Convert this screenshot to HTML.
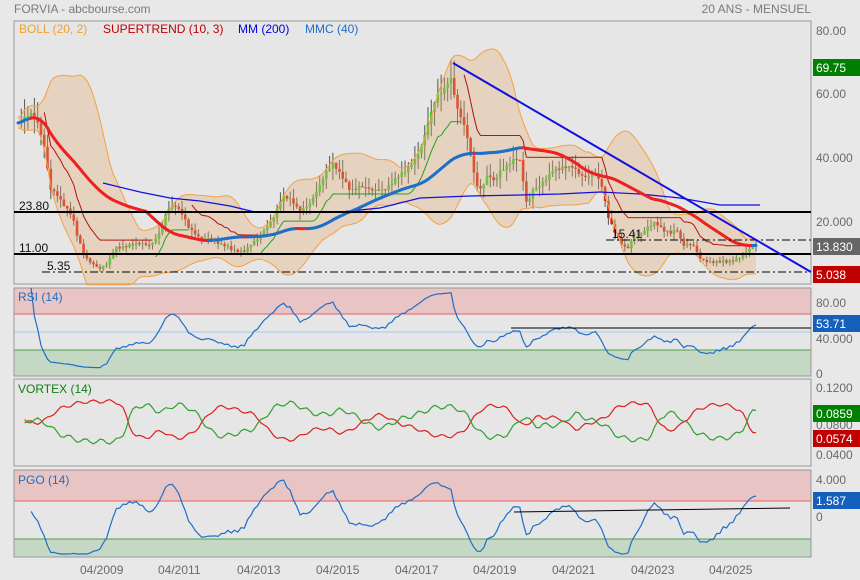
<!DOCTYPE html>
<html><head><meta charset="utf-8"><style>
html,body{margin:0;padding:0;background:#e8e8e8;}
svg{display:block;font-family:"Liberation Sans",sans-serif;}
</style></head><body>
<svg id="c" width="860" height="580" xmlns="http://www.w3.org/2000/svg">
<rect width="860" height="580" fill="#e8e8e8"/>
<text x="14" y="13" font-size="12" fill="#7a7a7a">FORVIA - abcbourse.com</text>
<text x="811" y="13" font-size="12" fill="#7a7a7a" text-anchor="end">20 ANS - MENSUEL</text>
<g id="bg"></g>
<g id="plot"></g>
<g font-size="12">
<text x="19" y="33" fill="#f0a030">BOLL (20, 2)</text>
<text x="103" y="33" fill="#c00000">SUPERTREND (10, 3)</text>
<text x="238" y="33" fill="#0000e0">MM (200)</text>
<text x="305" y="33" fill="#1e6fc8">MMC (40)</text>
<text x="18" y="301" fill="#1e6fc8">RSI (14)</text>
<text x="18" y="393" fill="#108010">VORTEX (14)</text>
<text x="18" y="484" fill="#1e6fc8">PGO (14)</text>
</g>
<g font-size="12" fill="#6a6a6a">
<text x="816" y="35">80.00</text>
<text x="816" y="98">60.00</text>
<text x="816" y="162">40.000</text>
<text x="816" y="226">20.000</text>
<text x="816" y="307">80.00</text>
<text x="816" y="343">40.000</text>
<text x="816" y="378">0</text>
<text x="816" y="392">0.1200</text>
<text x="816" y="429">0.0800</text>
<text x="816" y="459">0.0400</text>
<text x="816" y="484">4.000</text>
<text x="816" y="521">0</text>
<text x="80" y="574">04/2009</text>
<text x="158" y="574">04/2011</text>
<text x="237" y="574">04/2013</text>
<text x="316" y="574">04/2015</text>
<text x="395" y="574">04/2017</text>
<text x="473" y="574">04/2019</text>
<text x="552" y="574">04/2021</text>
<text x="631" y="574">04/2023</text>
<text x="709" y="574">04/2025</text>
</g>
<g font-size="12" fill="#fff">
<rect x="813" y="59" width="47" height="17" fill="#008000"/><text x="816" y="72">69.75</text>
<rect x="813" y="238" width="47" height="17" fill="#666"/><text x="816" y="251">13.830</text>
<rect x="813" y="266" width="47" height="17" fill="#c00000"/><text x="816" y="279">5.038</text>
<rect x="813" y="315" width="47" height="17" fill="#1560bd"/><text x="816" y="328">53.71</text>
<rect x="813" y="405" width="47" height="17" fill="#008000"/><text x="816" y="418">0.0859</text>
<rect x="813" y="430" width="47" height="17" fill="#c00000"/><text x="816" y="443">0.0574</text>
<rect x="813" y="492" width="47" height="17" fill="#1560bd"/><text x="816" y="505">1.587</text>
</g>
</svg>
<script>
const NS="http://www.w3.org/2000/svg";
function el(p,t,a){const e=document.createElementNS(NS,t);for(const k in a)e.setAttribute(k,a[k]);p.appendChild(e);return e;}
const bg=document.getElementById('bg'),P=document.getElementById('plot');
el(bg,'rect',{x:14,y:21,width:797,height:263,fill:'#e6e6e6',stroke:'#999'});
el(bg,'rect',{x:14,y:288,width:797,height:88,fill:'#e6e6e6',stroke:'#999'});
el(bg,'rect',{x:14,y:288,width:797,height:26,fill:'#e8c4c4'});
el(bg,'rect',{x:14,y:350,width:797,height:26,fill:'#c4d8c4'});
el(bg,'line',{x1:14,y1:314,x2:811,y2:314,stroke:'#e86060'});
el(bg,'line',{x1:14,y1:332,x2:811,y2:332,stroke:'#a8c8f0'});
el(bg,'line',{x1:14,y1:350,x2:811,y2:350,stroke:'#50a050'});
el(bg,'rect',{x:14,y:288,width:797,height:88,fill:'none',stroke:'#999'});
el(bg,'rect',{x:14,y:379,width:797,height:87,fill:'#e6e6e6',stroke:'#999'});
el(bg,'rect',{x:14,y:470,width:797,height:87,fill:'#e6e6e6',stroke:'#999'});
el(bg,'rect',{x:14,y:470,width:797,height:31,fill:'#e8c4c4'});
el(bg,'rect',{x:14,y:539,width:797,height:18,fill:'#c4d8c4'});
el(bg,'line',{x1:14,y1:501,x2:811,y2:501,stroke:'#e86060'});
el(bg,'line',{x1:14,y1:539,x2:811,y2:539,stroke:'#50a050'});
el(bg,'rect',{x:14,y:470,width:797,height:87,fill:'none',stroke:'#999'});

const pts=[[18,125],[25,118],[32,112],[38,122],[45,150],[50,190],[57,195],[65,205],[72,215],[78,240],[85,258],[92,262],[100,268],[108,265],[115,248],[125,245],[140,245],[150,244],[160,232],[168,210],[175,205],[182,212],[190,230],[200,240],[210,236],[220,245],[232,250],[245,250],[258,240],[265,228],[275,215],[282,198],[292,200],[300,210],[310,205],[318,190],[326,170],[333,163],[340,175],[350,190],[360,185],[372,192],[385,188],[395,180],[405,172],[415,158],[422,145],[430,118],[437,95],[443,90],[447,82],[452,78],[456,108],[462,120],[467,135],[472,162],[477,185],[482,190],[488,175],[494,182],[500,170],[507,165],[515,160],[520,162],[527,205],[533,188],[540,186],[547,180],[553,170],[563,166],[573,168],[580,176],[587,176],[595,172],[603,190],[607,215],[613,228],[620,240],[627,250],[633,240],[640,236],[647,226],[655,222],[663,232],[670,233],[677,228],[683,245],[693,246],[700,258],[707,260],[713,262],[720,263],[728,262],[735,258],[742,256],[750,250],[757,244]];
function interp(x){for(let i=1;i<pts.length;i++){if(x<=pts[i][0]){const a=pts[i-1],b=pts[i];const t=(x-a[0])/(b[0]-a[0]);return a[1]+t*(b[1]-a[1]);}}return pts[pts.length-1][1];}
const Y=v=>288-3.2*v, V=y=>(288-y)/3.2;
const xs=[],c=[];
for(let x=18;x<=758;x+=3.28){xs.push(x);let y=interp(x)+1.5*Math.sin(x*1.7)+1*Math.sin(x*0.9+1);c.push(V(y));}
const n=c.length;
for(let i=1;i<n;i++){const o=c[i-1],cl=c[i];const up=cl>=o;const hi=Math.max(o,cl)+Math.abs(Math.sin(i*2.3))*2.2*(c[i]/25+0.3),lo=Math.min(o,cl)-Math.abs(Math.cos(i*1.9))*2*(c[i]/25+0.3);
el(P,'line',{x1:xs[i],y1:Y(hi),x2:xs[i],y2:Y(lo),stroke:'#555','stroke-width':1});
const t=Y(Math.max(o,cl)),b=Y(Math.min(o,cl));el(P,'rect',{x:xs[i]-1.3,y:t,width:2.6,height:Math.max(1,b-t),fill:up?'#33cc22':'#dd2211'});}
function sma(a,w,i){let s=0,k=0;for(let j=Math.max(0,i-w+1);j<=i;j++){s+=a[j];k++;}return s/k;}
let up=[],dn=[];
for(let i=0;i<n;i++){const m=sma(c,20,i);let s=0,k=0;for(let j=Math.max(0,i-19);j<=i;j++){s+=(c[j]-m)**2;k++;}const sd=Math.sqrt(s/k)+0.8;up.push([xs[i],Y(m+2*sd)]);dn.push([xs[i],Y(Math.max(m-2*sd,1))]);}
const ps=a=>a.map((p,i)=>(i?'L':'M')+p[0].toFixed(1)+' '+p[1].toFixed(1)).join('');
el(P,'path',{d:ps(up)+ps(dn.slice().reverse()).replace('M','L')+'Z',fill:'rgba(225,175,120,0.35)',stroke:'none'});
el(P,'path',{d:ps(up),fill:'none',stroke:'#f5a040','stroke-width':1});
el(P,'path',{d:ps(dn),fill:'none',stroke:'#f5a040','stroke-width':1});
el(P,'path',{d:'M103 183 L140 192 L170 198 L200 201 L230 206 L255 212',fill:'none',stroke:'#1010e0','stroke-width':1.2});
el(P,'path',{d:'M340 212 L380 208 L420 198 L470 196 L520 195 L560 194 L600 192 L640 194 L680 198 L720 205 L760 205',fill:'none',stroke:'#1010e0','stroke-width':1.2});
let atr=[],st=[],dir=1,ub=0,lb=0;
for(let i=0;i<n;i++){const tr=i?Math.abs(c[i]-c[i-1])+1.2*(c[i]/25+0.3):2;atr.push(i?(atr[i-1]*9+tr)/10:tr);const m=c[i];let nu=m+3*atr[i],nl=m-3*atr[i];
if(i){nu=(nu<ub||c[i-1]>ub)?nu:ub;nl=(nl>lb||c[i-1]<lb)?nl:lb;}ub=nu;lb=nl;
if(dir==1&&c[i]<lb)dir=-1;else if(dir==-1&&c[i]>ub)dir=1;st.push([xs[i],Y(dir==1?lb:ub),dir]);}
for(let i=8;i<n;i++){if(st[i][2]!=st[i-1][2])continue;el(P,'line',{x1:st[i-1][0],y1:st[i-1][1],x2:st[i][0],y2:st[i][1],stroke:st[i][2]==1?'#20a020':'#b01010','stroke-width':1});}
for(let i=1;i<n;i++){const a=sma(c,40,i-1),b=sma(c,40,i);el(P,'line',{x1:xs[i-1],y1:Y(a),x2:xs[i],y2:Y(b),stroke:b>=a?'#1e6fc8':'#ee2020','stroke-width':3,'stroke-linecap':'round'});}
el(P,'line',{x1:14,y1:212,x2:811,y2:212,stroke:'#000','stroke-width':2});
el(P,'line',{x1:14,y1:254,x2:811,y2:254,stroke:'#000','stroke-width':2});
el(P,'line',{x1:42,y1:272,x2:811,y2:272,stroke:'#000','stroke-dasharray':'8 3 2 3'});
el(P,'line',{x1:606,y1:240,x2:811,y2:240,stroke:'#000','stroke-dasharray':'8 3 2 3'});
el(P,'line',{x1:453,y1:63,x2:811,y2:272,stroke:'#1010e0','stroke-width':2});
[['23.80',19,210],['11.00',19,252],['5.35',47,270],['15.41',612,238]].forEach(t=>{const e=el(P,'text',{x:t[1],y:t[2],'font-size':12,fill:'#111'});e.textContent=t[0];});
let ag=0,al=0,rsi=[];
for(let i=1;i<n;i++){const d=c[i]-c[i-1];const g=Math.max(d,0),l=Math.max(-d,0);if(i<=14){ag+=g/14;al+=l/14;}else{ag=(ag*13+g)/14;al=(al*13+l)/14;}rsi.push([xs[i],372-0.84*(100-100/(1+ag/(al||1e-6)))]);}
el(P,'path',{d:ps(rsi.slice(3)),fill:'none',stroke:'#1e6fc8','stroke-width':1.2});
el(P,'line',{x1:511,y1:328,x2:811,y2:328,stroke:'#000','stroke-width':1});
// Vortex (smoothed)
let dd=[];
for(let i=0;i<n;i++){const j=Math.max(0,i-12);dd.push((c[i]-c[j])/sma(c,14,i));}
let vp=[],vm=[];
for(let i=2;i<n;i++){let s=0,k=0;for(let j=Math.max(0,i-4);j<=i;j++){s+=dd[j];k++;}const t=Math.tanh(s/k*1.6);const nz=0.003*Math.sin(i*1.3);
vp.push([xs[i],388+(0.12-(0.08+0.025*t+nz))*837]);vm.push([xs[i],388+(0.12-(0.08-0.025*t-nz*0.7))*837]);}
el(P,'path',{d:ps(vm),fill:'none',stroke:'#dd2020','stroke-width':1.2});
el(P,'path',{d:ps(vp),fill:'none',stroke:'#30a030','stroke-width':1.2});
let pg=[];
for(let i=1;i<n;i++){const m=sma(c,14,i);const a=atr[i]*1.0;let p=(c[i]-m)/a;p=Math.max(-4,Math.min(5,p));pg.push([xs[i],517-9.25*p]);}
el(P,'path',{d:ps(pg.slice(3)),fill:'none',stroke:'#1e6fc8','stroke-width':1.2});
el(P,'line',{x1:514,y1:512,x2:790,y2:508,stroke:'#000','stroke-width':1});
</script>
</body></html>
